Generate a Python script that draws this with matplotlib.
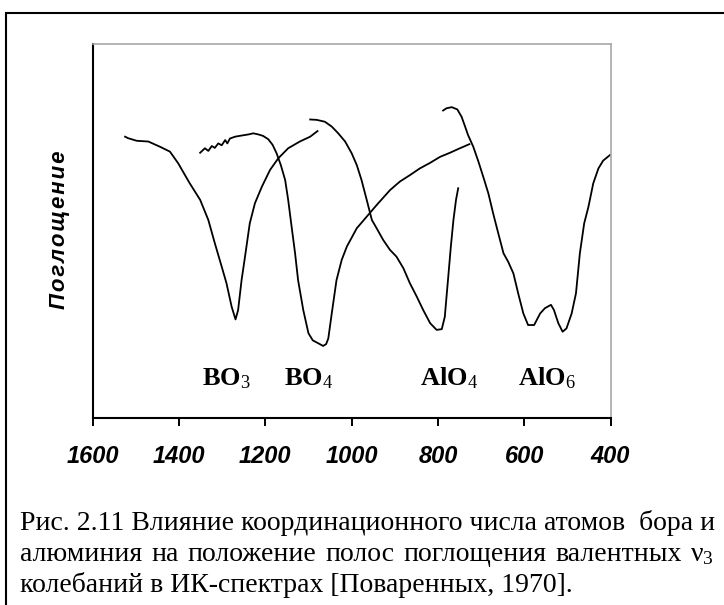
import matplotlib.pyplot as plt
from matplotlib.patches import Rectangle

plt.rcParams['mathtext.fontset'] = 'custom'
plt.rcParams['mathtext.rm'] = 'Liberation Serif'
plt.rcParams['mathtext.bf'] = 'Liberation Serif:bold'
plt.rcParams['mathtext.it'] = 'Liberation Serif:italic'

# волновое число (см-1) и поглощение (усл. ед.)
bo3_x = [1525, 1518, 1498, 1471, 1444, 1421, 1402, 1375, 1351, 1332, 1317, 1301, 1290,
         1278, 1269, 1263, 1255, 1247, 1236, 1224, 1208, 1189, 1170, 1147, 1120, 1096, 1079]
bo3_y = [75.2, 74.8, 74.1, 73.9, 72.5, 71.2, 68.1, 62.7, 58.3, 52.9, 46.7, 40.4, 36.0,
         29.7, 26.3, 28.8, 36.8, 43.1, 52.0, 57.4, 61.8, 66.3, 69.4, 72.1, 73.9, 75.2, 76.7]

bo4_x = [1351, 1340, 1332, 1324, 1317, 1309, 1301, 1293, 1288, 1282, 1270, 1255, 1239,
         1228, 1216, 1205, 1193, 1183, 1174, 1164, 1154, 1147, 1139, 1131, 1124, 1112,
         1100, 1090, 1077, 1066, 1059, 1054, 1046, 1035, 1023, 1011, 988, 965, 942, 911,
         888, 865, 842, 818, 795, 772, 749, 727]
bo4_y = [70.9, 72.1, 71.4, 72.7, 72.2, 73.4, 72.9, 74.3, 73.4, 74.7, 75.2, 75.5, 75.8,
         76.1, 75.8, 75.4, 74.5, 73.0, 70.8, 67.6, 63.6, 58.3, 51.1, 44.0, 36.8, 28.8,
         22.6, 20.7, 19.9, 19.2, 19.7, 21.2, 27.9, 36.8, 42.2, 45.8, 50.7, 53.8, 56.9, 60.9,
         63.2, 64.9, 66.7, 68.2, 69.8, 70.9, 72.1, 73.2]

alo4_x = [1096, 1081, 1062, 1046, 1031, 1015, 1000, 988, 977, 965, 953, 942, 927, 911,
          896, 880, 865, 849, 834, 818, 803, 791, 784, 780, 776, 770, 764, 758, 753]
alo4_y = [79.8, 79.7, 79.2, 77.9, 76.1, 73.9, 70.8, 67.6, 63.6, 58.3, 52.9, 50.7, 47.6, 44.9,
          43.1, 40.0, 36.0, 32.4, 28.8, 25.3, 23.5, 23.7, 27.0, 32.4, 37.7, 45.8, 52.9, 58.3, 61.4]

alo6_x = [788, 780, 768, 755, 745, 737, 730, 718, 706, 695, 683, 672, 660, 648, 637, 625,
          614, 602, 591, 577, 563, 552, 538, 531, 521, 511, 502, 490, 480, 471, 461, 451,
          440, 428, 417, 401]
alo6_y = [82.2, 82.8, 83.1, 82.5, 80.5, 77.9, 75.6, 72.5, 68.5, 64.5, 60.0, 54.7, 49.3, 44.0,
          41.7, 38.6, 33.3, 27.9, 24.8, 24.8, 27.9, 29.3, 30.2, 28.8, 25.3, 23.0, 23.9, 27.9,
          33.3, 44.0, 52.0, 56.5, 62.7, 66.7, 68.8, 70.3]

band_labels = [r'$\mathbf{BO}_\mathrm{3}$', r'$\mathbf{BO}_\mathrm{4}$',
               r'$\mathbf{AlO}_\mathrm{4}$', r'$\mathbf{AlO}_\mathrm{6}$']
band_centers = [1291, 1099, 774, 547]

x_ticks = [1600, 1400, 1200, 1000, 800, 600, 400]

caption = [
    "Рис. 2.11 Влияние координационного числа атомов  бора и",
    "алюминия на положение полос поглощения валентных ν$_\\mathrm{3}$",
    "колебаний в ИК-спектрах [Поваренных, 1970].",
]

W, H = 724, 605
fig = plt.figure(figsize=(W / 100, H / 100), dpi=100)
ax = fig.add_axes([92.7 / W, 1 - 417.7 / H, 517.8 / W, 373.7 / H])

for xs, ys in [(bo3_x, bo3_y), (bo4_x, bo4_y), (alo4_x, alo4_y), (alo6_x, alo6_y)]:
    ax.plot(xs, ys, color='black', lw=1.3)

for name, xc in zip(band_labels, band_centers):
    ax.text(xc, 10.5, name, ha='center', va='center', fontsize=19)

ax.set_xlim(1600, 400)
ax.set_ylim(0, 100)
ax.set_xticks(x_ticks)
ax.set_xticklabels([str(t) for t in x_ticks], fontsize=17, family='Liberation Sans',
                   weight='bold', style='italic')
ax.set_yticks([])
ax.tick_params(axis='x', direction='out', length=6, width=1.4, pad=14)
for side in ['left', 'bottom']:
    ax.spines[side].set_linewidth(1.5)
    ax.spines[side].set_color('black')
for side in ['top', 'right']:
    ax.spines[side].set_linewidth(1.2)
    ax.spines[side].set_color('#a8a8a8')

fig.text(59 / W, 1 - 230 / H, '\u200a'.join('Поглощение'), rotation=90,
         ha='center', va='center', fontsize=16, weight='bold', style='italic',
         family=['Liberation Sans', 'DejaVu Sans'])

# рамка вокруг рисунка
fig.patches.append(Rectangle((6 / W, -0.1), 1.2, 1.1 - 12.7 / H,
                             transform=fig.transFigure, fill=False,
                             edgecolor='black', lw=1.5))

# подпись, выровненная по ширине
left, right = 20, 714
renderer = fig.canvas.get_renderer()
base = [530, 561, 592]
t1 = fig.text(left / W, 1 - base[0] / H, caption[0], fontsize=16,
              family='Liberation Serif', va='baseline')
w1 = t1.get_window_extent(renderer).width
size = 16 * (right - left) / w1
t1.set_fontsize(size)

words = caption[1].split(' ')
objs = [fig.text(0, 1 - base[1] / H, w, fontsize=size, family='Liberation Serif',
                 va='baseline') for w in words]
widths = [o.get_window_extent(renderer).width for o in objs]
gap = (right - left - sum(widths)) / (len(words) - 1)
xpos = left
for o, wd in zip(objs, widths):
    o.set_x(xpos / W)
    xpos += wd + gap

fig.text(left / W, 1 - base[2] / H, caption[2], fontsize=size,
         family='Liberation Serif', va='baseline')

fig.savefig('out.png', dpi=100)
